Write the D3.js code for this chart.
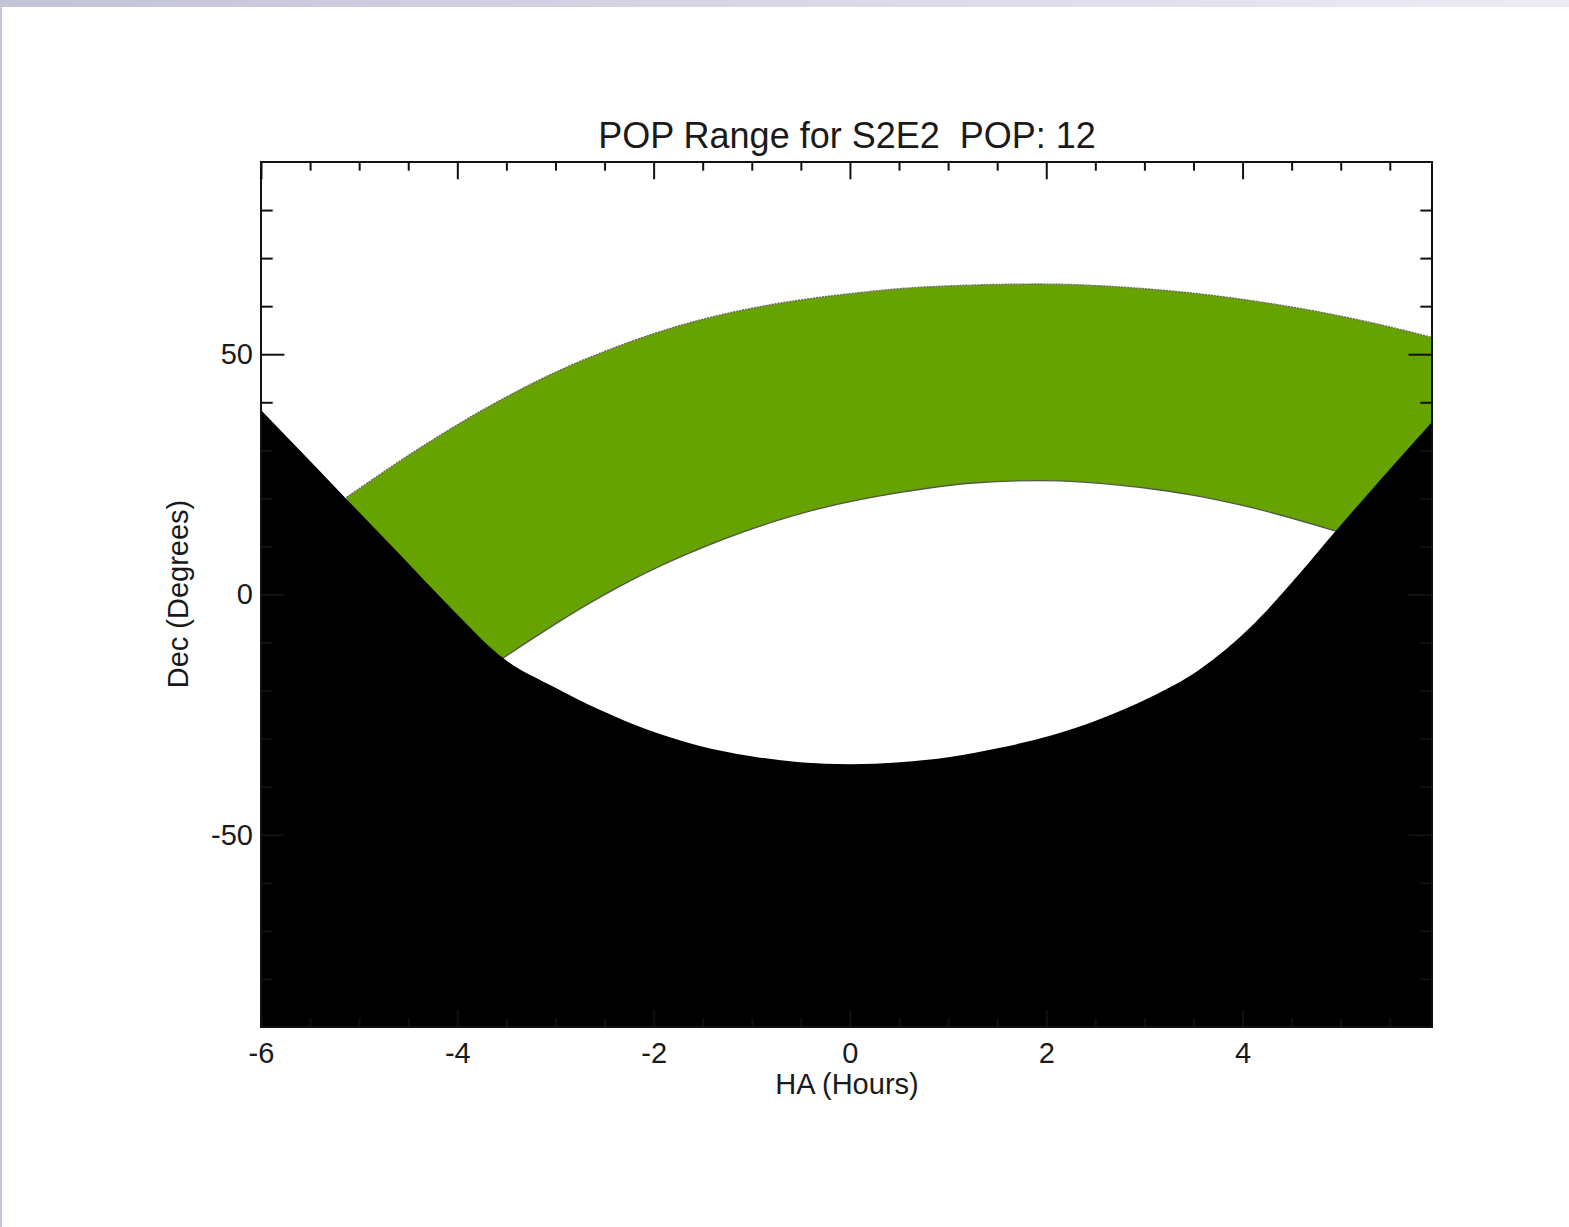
<!DOCTYPE html>
<html>
<head>
<meta charset="utf-8">
<script src="https://cdn.jsdelivr.net/npm/d3@7"></script>
<style>
  html, body { margin: 0; padding: 0; background: #fff; }
  svg { display: block; }
  text { font-family: "Liberation Sans", Arial, Helvetica, sans-serif; fill: #1a1a1a; }
</style>
</head>
<body>
<script>
// ---- Data ----
const titleText = "POP Range for S2E2  POP: 12";
const xLabel = "HA (Hours)";
const yLabel = "Dec (Degrees)";
const xMajorTicks = [-6, -4, -2, 0, 2, 4];
const yMajorTicks = [-50, 0, 50];

// Horizon limit (black region lies below it): [HA hours, Dec degrees]
const horizonHA  = [-6.00, -5.60, -5.14, -4.58, -4.07, -3.51, -3.06, -2.55, -2.04, -1.53, -1.02, -0.51, 0.00, 0.51, 1.02, 1.53, 2.04, 2.55, 3.06, 3.57, 4.08, 4.59, 4.94, 5.40, 5.93];
const horizonDec = [38.4, 29.9, 20.1, 8.2, -2.7, -13.6, -18.8, -24.0, -28.3, -31.5, -33.6, -34.9, -35.3, -34.9, -33.8, -31.9, -29.4, -25.9, -21.4, -15.5, -6.8, 4.6, 13.0, 23.8, 35.9];

// Upper edge of the POP range band
const upperHA  = [-5.13, -4.28, -3.60, -2.93, -2.25, -1.57, -0.89, 0.00, 0.77, 1.92, 3.08, 3.86, 4.62, 5.39, 5.93];
const upperDec = [20.2, 31.8, 40.0, 46.9, 52.5, 56.9, 60.0, 62.6, 64.0, 64.6, 63.5, 61.8, 59.4, 56.2, 53.5];

// Lower edge of the POP range band
const lowerHA  = [-3.54, -2.67, -2.09, -1.65, -0.77, -0.42, 0.53, 1.26, 1.93, 2.37, 3.14, 3.49, 4.01, 4.95];
const lowerDec = [-13.3, -2.0, 4.4, 8.5, 15.2, 17.3, 21.3, 23.2, 23.7, 23.4, 21.8, 20.7, 18.5, 13.2];

// ---- Layout ----
const W = 1569, H = 1227;
const plot = { left: 261, right: 1432, top: 162, bottom: 1027 };

const svg = d3.select("body").append("svg").attr("width", W).attr("height", H);

// page chrome: top gradient band and left border
const defs = svg.append("defs");
const grad = defs.append("linearGradient").attr("id", "topband").attr("x1", "0").attr("x2", "1").attr("y1", "0").attr("y2", "0");
grad.append("stop").attr("offset", "0").attr("stop-color", "#c3c3d6");
grad.append("stop").attr("offset", "1").attr("stop-color", "#ececf7");
svg.append("rect").attr("x", 0).attr("y", 0).attr("width", W).attr("height", 7).attr("fill", "url(#topband)");
svg.append("rect").attr("x", 0).attr("y", 7).attr("width", 2).attr("height", H - 7).attr("fill", "#c6c6d8");

const x = d3.scaleLinear().domain([-6, 5.93]).range([plot.left, plot.right]);
const y = d3.scaleLinear().domain([-90, 90]).range([plot.bottom, plot.top]);

const zip = (a, b) => a.map((v, i) => [v, b[i]]);
const horizon = zip(horizonHA, horizonDec);
const upper = zip(upperHA, upperDec);
const lower = zip(lowerHA, lowerDec);

defs.append("clipPath").attr("id", "plotclip").append("rect")
  .attr("x", plot.left).attr("y", plot.top)
  .attr("width", plot.right - plot.left).attr("height", plot.bottom - plot.top);

const g = svg.append("g").attr("clip-path", "url(#plotclip)");
const curve = d3.curveMonotoneX;

const areaBelow = d3.area().x(d => x(d[0])).y0(y(-90)).y1(d => y(d[1])).curve(curve);
const lineGen = d3.line().x(d => x(d[0])).y(d => y(d[1])).curve(curve);

// green band: fill below upper edge, then clear below lower edge
g.append("path").datum(upper).attr("d", areaBelow).attr("fill", "#66a300");
g.append("path").datum(lower).attr("d", areaBelow).attr("fill", "#ffffff");
g.append("path").datum(upper).attr("d", lineGen).attr("fill", "none").attr("stroke", "#6b6b5a").attr("stroke-width", 1.4).attr("stroke-dasharray", "2,1");
g.append("path").datum(lower).attr("d", lineGen).attr("fill", "none").attr("stroke", "#4f5a40").attr("stroke-width", 1.3);

// black region below the horizon limit
g.append("path").datum(horizon).attr("d", areaBelow).attr("fill", "#000000");

// ---- Axes (IDL style, inward ticks on all four sides) ----
const xMinor = d3.range(-5.5, 5.93, 0.5).filter(v => !xMajorTicks.includes(v));
const yMinor = d3.range(-80, 90, 10).filter(v => !yMajorTicks.includes(v));
const xTickMaj = 17.3, xTickMin = 8.7, yTickMaj = 23.4, yTickMin = 11.7;

function tickAxis(axisFn, scale, values, size, transform) {
  const a = axisFn(scale).tickValues(values).tickSize(-size).tickFormat("");
  const gg = svg.append("g").attr("transform", transform).call(a);
  gg.select(".domain").remove();
  gg.selectAll(".tick line").attr("stroke", "#111").attr("stroke-width", 2);
  return gg;
}
tickAxis(d3.axisBottom, x, xMajorTicks, xTickMaj, `translate(0,${plot.bottom})`);
tickAxis(d3.axisBottom, x, xMinor, xTickMin, `translate(0,${plot.bottom})`);
tickAxis(d3.axisTop, x, xMajorTicks, xTickMaj, `translate(0,${plot.top})`);
tickAxis(d3.axisTop, x, xMinor, xTickMin, `translate(0,${plot.top})`);
tickAxis(d3.axisLeft, y, yMajorTicks, yTickMaj, `translate(${plot.left},0)`);
tickAxis(d3.axisLeft, y, yMinor, yTickMin, `translate(${plot.left},0)`);
tickAxis(d3.axisRight, y, yMajorTicks, yTickMaj, `translate(${plot.right},0)`);
tickAxis(d3.axisRight, y, yMinor, yTickMin, `translate(${plot.right},0)`);

// tick labels
const xLab = svg.append("g").attr("transform", `translate(0,${plot.bottom})`)
  .call(d3.axisBottom(x).tickValues(xMajorTicks).tickSize(0).tickPadding(15).tickFormat(d => String(d)));
xLab.select(".domain").remove();
xLab.selectAll("text").attr("font-size", 29).attr("fill", "#1a1a1a")
  .attr("font-family", '"Liberation Sans", Arial, Helvetica, sans-serif');

const yLab = svg.append("g").attr("transform", `translate(${plot.left},0)`)
  .call(d3.axisLeft(y).tickValues(yMajorTicks).tickSize(0).tickPadding(8).tickFormat(d => String(d)));
yLab.select(".domain").remove();
yLab.selectAll("text").attr("font-size", 29).attr("fill", "#1a1a1a")
  .attr("font-family", '"Liberation Sans", Arial, Helvetica, sans-serif');

// frame
svg.append("rect").attr("x", plot.left).attr("y", plot.top)
  .attr("width", plot.right - plot.left).attr("height", plot.bottom - plot.top)
  .attr("fill", "none").attr("stroke", "#111").attr("stroke-width", 2);

// titles
svg.append("text").attr("x", 847).attr("y", 148).attr("text-anchor", "middle")
  .attr("font-size", 36).style("white-space", "pre").text(titleText);
svg.append("text").attr("x", 847).attr("y", 1094).attr("text-anchor", "middle")
  .attr("font-size", 29).text(xLabel);
svg.append("text").attr("transform", `translate(188,${594}) rotate(-90)`).attr("text-anchor", "middle")
  .attr("font-size", 29).text(yLabel);
</script>
</body>
</html>
